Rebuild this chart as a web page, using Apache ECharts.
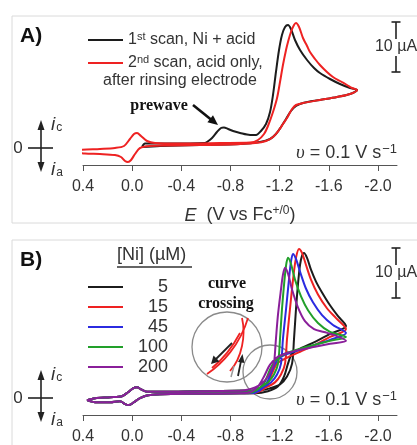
<!DOCTYPE html>
<html>
<head>
<meta charset="utf-8">
<script src="https://cdn.jsdelivr.net/npm/echarts@6/dist/echarts.min.js"></script>
<style>
    html, body { margin: 0; padding: 0; background: #fff; }
    #chart { width: 417px; height: 445px; }
</style>
</head>
<body>
<div id="chart"></div>
<script>
// potential ticks (V vs Fc+/0), same for both panels
const eTicks = [0.4, 0.0, -0.4, -0.8, -1.2, -1.6, -2.0];

// panel A: [E (V), i (uA)], cathodic current up
const scan1 = [
    [-0.080, 0.2], [-0.105, 0.9], [-0.308, 0.9], [-0.593, 1.0], [-0.609, 1.2], [-0.650, 2.0],
    [-0.690, 3.2], [-0.723, 4.0], [-0.747, 4.1], [-0.780, 3.8], [-0.821, 3.4], [-0.878, 3.0],
    [-0.959, 2.6], [-1.008, 2.6], [-1.048, 3.4], [-1.089, 4.8], [-1.122, 7.2], [-1.146, 10.6],
    [-1.170, 15.2], [-1.195, 19.6], [-1.219, 22.6], [-1.244, 24.2], [-1.268, 24.6], [-1.292, 23.8],
    [-1.325, 21.6], [-1.366, 19.6], [-1.423, 17.6], [-1.480, 16.0], [-1.528, 15.0], [-1.610, 13.8],
    [-1.691, 12.8], [-1.773, 12.0], [-1.830, 11.6],
    [-1.773, 10.8], [-1.667, 10.2], [-1.528, 9.6], [-1.390, 9.0], [-1.333, 8.4], [-1.292, 7.4],
    [-1.252, 5.8], [-1.211, 4.2], [-1.170, 2.8], [-1.122, 1.8], [-1.040, 1.2], [-0.878, 0.8],
    [-0.552, 0.6], [-0.227, 0.4], [-0.080, 0.2]
];
const scan2 = [
    [0.481, -0.8], [0.424, -0.4], [0.262, -0.2], [0.140, 0.0], [0.066, 0.4], [0.018, 1.8],
    [-0.015, 2.8], [-0.040, 3.0], [-0.072, 2.4], [-0.121, 1.4], [-0.186, 1.0], [-0.389, 0.9],
    [-0.715, 1.0], [-0.959, 1.1], [-1.024, 1.6], [-1.073, 2.8], [-1.105, 4.4], [-1.146, 7.2],
    [-1.179, 10.0], [-1.203, 13.2], [-1.227, 16.6], [-1.252, 19.6], [-1.268, 21.2], [-1.292, 23.2],
    [-1.317, 24.6], [-1.333, 25.0], [-1.358, 24.2], [-1.390, 22.0], [-1.423, 20.4], [-1.447, 19.2],
    [-1.488, 17.8], [-1.528, 16.6], [-1.585, 15.2], [-1.634, 14.2], [-1.691, 13.4], [-1.748, 12.6],
    [-1.789, 12.0], [-1.830, 11.6],
    [-1.773, 10.8], [-1.667, 10.2], [-1.528, 9.6], [-1.390, 9.0], [-1.333, 8.6], [-1.301, 7.8],
    [-1.260, 6.0], [-1.227, 4.8], [-1.195, 3.6], [-1.146, 2.2], [-1.089, 1.4], [-1.000, 1.0],
    [-0.796, 0.7], [-0.552, 0.6], [-0.308, 0.5], [-0.145, 0.4], [-0.064, 0.0], [-0.023, -1.2],
    [0.009, -2.4], [0.034, -2.8], [0.058, -2.6], [0.091, -1.8], [0.140, -1.4], [0.262, -1.2],
    [0.384, -1.1], [0.481, -0.8]
];

// panel B: [Ni] series, shared Fc part + catalytic wave
const niConc = ['5', '15', '45', '100', '200'];
const fcForward = [
    [0.367, -0.8], [0.302, -0.4], [0.180, -0.2], [0.083, 0.0], [0.034, 0.8], [-0.007, 1.6],
    [-0.040, 1.8], [-0.072, 1.4], [-0.121, 0.9], [-0.227, 0.9], [-0.552, 1.0], [-0.878, 1.1]
];
const fcReturn = [
    [-0.878, 0.6], [-0.552, 0.5], [-0.227, 0.4], [-0.129, 0.2], [-0.064, -0.4], [-0.015, -1.2],
    [0.026, -1.8], [0.058, -1.6], [0.099, -1.0], [0.180, -1.2], [0.302, -1.2], [0.367, -0.8]
];
const wave5 = [
    [-1.024, 1.1], [-1.122, 1.6], [-1.203, 2.4], [-1.260, 4.0], [-1.301, 6.6], [-1.317, 11.6],
    [-1.333, 17.6], [-1.349, 22.6], [-1.366, 26.6], [-1.382, 28.4], [-1.398, 29.0], [-1.423, 28.0],
    [-1.455, 25.6], [-1.496, 23.2], [-1.545, 21.0], [-1.610, 18.4], [-1.675, 16.2], [-1.740, 14.2],
    [-1.610, 12.6], [-1.488, 11.0], [-1.366, 9.6], [-1.301, 8.6], [-1.268, 6.6], [-1.236, 4.0],
    [-1.187, 2.0], [-1.105, 1.0], [-1.000, 0.6]
];
const wave15 = [
    [-1.000, 1.1], [-1.089, 1.8], [-1.162, 2.8], [-1.211, 4.4], [-1.244, 6.6], [-1.260, 11.6],
    [-1.284, 17.6], [-1.309, 23.6], [-1.333, 28.0], [-1.358, 29.8], [-1.382, 29.0], [-1.414, 26.6],
    [-1.455, 23.6], [-1.512, 20.6], [-1.585, 17.8], [-1.659, 15.8], [-1.740, 13.6],
    [-1.610, 12.0], [-1.488, 10.4], [-1.366, 9.0], [-1.244, 7.6], [-1.179, 6.6], [-1.138, 4.6],
    [-1.105, 2.6], [-1.056, 1.2], [-0.959, 0.6]
];
const wave45 = [
    [-0.975, 1.1], [-1.065, 1.8], [-1.130, 2.8], [-1.179, 4.4], [-1.211, 6.6], [-1.227, 11.6],
    [-1.252, 17.6], [-1.276, 23.6], [-1.292, 27.2], [-1.309, 28.8], [-1.333, 27.8], [-1.366, 25.2],
    [-1.414, 21.8], [-1.471, 19.0], [-1.545, 16.4], [-1.634, 14.4], [-1.740, 12.8],
    [-1.610, 11.4], [-1.488, 10.4], [-1.366, 9.4], [-1.244, 8.4], [-1.179, 7.2], [-1.138, 5.2],
    [-1.097, 2.8], [-1.040, 1.2], [-0.959, 0.6]
];
const wave100 = [
    [-0.959, 1.1], [-1.040, 1.8], [-1.105, 2.8], [-1.154, 4.4], [-1.187, 6.6], [-1.203, 11.6],
    [-1.219, 17.6], [-1.236, 22.6], [-1.252, 26.4], [-1.268, 28.0], [-1.292, 26.8], [-1.325, 23.6],
    [-1.374, 20.2], [-1.431, 17.4], [-1.512, 14.8], [-1.610, 13.0], [-1.740, 12.0],
    [-1.610, 11.2], [-1.488, 10.4], [-1.366, 9.6], [-1.244, 8.6], [-1.170, 7.4], [-1.122, 5.4],
    [-1.081, 3.0], [-1.024, 1.4], [-0.943, 0.6]
];
const wave200 = [
    [-0.918, 1.2], [-1.000, 1.8], [-1.056, 2.6], [-1.105, 4.0], [-1.138, 5.6], [-1.154, 6.6],
    [-1.170, 11.6], [-1.187, 16.6], [-1.211, 21.6], [-1.227, 24.6], [-1.244, 26.0], [-1.268, 24.8],
    [-1.301, 21.6], [-1.349, 18.0], [-1.406, 15.2], [-1.480, 13.6], [-1.561, 13.0], [-1.642, 12.4],
    [-1.740, 11.2],
    [-1.610, 10.6], [-1.488, 10.0], [-1.366, 9.4], [-1.268, 8.8], [-1.187, 8.0], [-1.122, 6.4],
    [-1.073, 4.0], [-1.024, 2.0], [-0.959, 0.8]
];
const waves = [wave5, wave15, wave45, wave100, wave200];

const niColors = ['#1c1c1c', '#ee2222', '#2b2be0', '#22a02a', '#8a1f9a'];
const sans = '"Liberation Sans", Arial, sans-serif';
const serif = '"Liberation Serif", "Times New Roman", serif';

let myChart = echarts.init(document.getElementById('chart'));

function xAxisFor(gridIndex) {
    return {
        gridIndex: gridIndex,
        type: 'value',
        min: -2.155,
        max: 0.4,
        inverse: true,
        axisLine: {onZero: false, lineStyle: {color: '#555', width: 1}},
        axisTick: {customValues: eTicks, length: 6, lineStyle: {color: '#555'}},
        axisLabel: {
            customValues: eTicks, margin: 14, fontSize: 16, color: '#333', fontFamily: sans,
            formatter: v => v.toFixed(1)
        },
        splitLine: {show: false}
    };
}

// 0 label with i_c / i_a double arrow
function currentCross(y0) {
    let c = '#222';
    return [
        {type: 'text', x: 18, y: y0, style: {text: '0', font: '17px ' + sans, fill: '#333', align: 'center', verticalAlign: 'middle'}},
        {type: 'line', shape: {x1: 28, y1: y0, x2: 53, y2: y0}, style: {stroke: c, lineWidth: 1.6}},
        {type: 'line', shape: {x1: 41, y1: y0 - 20, x2: 41, y2: y0 + 16}, style: {stroke: c, lineWidth: 1.6}},
        {type: 'polygon', shape: {points: [[41, y0 - 28], [37.5, y0 - 18], [44.5, y0 - 18]]}, style: {fill: c}},
        {type: 'polygon', shape: {points: [[41, y0 + 24], [37.5, y0 + 14], [44.5, y0 + 14]]}, style: {fill: c}},
        {type: 'text', x: 51, y: y0 - 23, style: {
            text: '{i|i}{s|c}', verticalAlign: 'middle', fill: '#333',
            rich: {i: {font: 'italic 19px ' + sans}, s: {font: '12px ' + sans, padding: [6, 0, 0, 1]}}
        }},
        {type: 'text', x: 51, y: y0 + 22, style: {
            text: '{i|i}{s|a}', verticalAlign: 'middle', fill: '#333',
            rich: {i: {font: 'italic 19px ' + sans}, s: {font: '12px ' + sans, padding: [6, 0, 0, 1]}}
        }}
    ];
}

// 10 uA scale bar
function scaleBar(yTop) {
    let c = '#222';
    return [
        {type: 'line', shape: {x1: 391.5, y1: yTop, x2: 400.5, y2: yTop}, style: {stroke: c, lineWidth: 1.6}},
        {type: 'line', shape: {x1: 396, y1: yTop, x2: 396, y2: yTop + 17}, style: {stroke: c, lineWidth: 1.6}},
        {type: 'text', x: 396, y: yTop + 25, style: {text: '10 µA', font: '16px ' + sans, fill: '#333', align: 'center', verticalAlign: 'middle'}},
        {type: 'line', shape: {x1: 396, y1: yTop + 34, x2: 396, y2: yTop + 50}, style: {stroke: c, lineWidth: 1.6}},
        {type: 'line', shape: {x1: 391.5, y1: yTop + 50, x2: 400.5, y2: yTop + 50}, style: {stroke: c, lineWidth: 1.6}}
    ];
}

function scanRate(y) {
    return {type: 'text', x: 397, y: y, style: {
        text: '{v|υ}{t| = 0.1 V s}{s|−1}', align: 'right', verticalAlign: 'middle', fill: '#333',
        rich: {v: {font: 'italic 19px ' + serif}, t: {font: '18px ' + sans}, s: {font: '13px ' + sans, padding: [0, 0, 8, 1]}}
    }};
}

let graphics = [
    {type: 'rect', z: -1, shape: {x: 12, y: 16, width: 420, height: 207}, style: {fill: 'none', stroke: '#dadada', lineWidth: 1}},
    {type: 'rect', z: -1, shape: {x: 12, y: 240, width: 420, height: 230}, style: {fill: 'none', stroke: '#dadada', lineWidth: 1}},
    {type: 'text', x: 20, y: 36, style: {text: 'A)', font: 'bold 21px ' + sans, fill: '#111', verticalAlign: 'middle'}},
    {type: 'text', x: 20, y: 260, style: {text: 'B)', font: 'bold 21px ' + sans, fill: '#111', verticalAlign: 'middle'}},
    {type: 'text', x: 103, y: 81, style: {text: 'after rinsing electrode', font: '16px ' + sans, fill: '#333', verticalAlign: 'middle'}},
    // prewave annotation
    {type: 'text', x: 159, y: 106, style: {text: 'prewave', font: 'bold 16px ' + serif, fill: '#111', align: 'center', verticalAlign: 'middle'}},
    {type: 'line', shape: {x1: 193, y1: 105, x2: 211, y2: 119.5}, style: {stroke: '#111', lineWidth: 2.6}},
    {type: 'polygon', shape: {points: [[218, 125], [207.4, 122.3], [213, 115.3]]}, style: {fill: '#111'}},
    // legend title of B
    {type: 'text', x: 117, y: 255, style: {text: '[Ni] (µM)', font: '18px ' + sans, fill: '#333', verticalAlign: 'middle'}},
    {type: 'line', shape: {x1: 117, y1: 267, x2: 192, y2: 267}, style: {stroke: '#333', lineWidth: 1.6}},
    // curve crossing callout
    {type: 'text', x: 227, y: 284, style: {text: 'curve', font: 'bold 16px ' + serif, fill: '#111', align: 'center', verticalAlign: 'middle'}},
    {type: 'text', x: 226, y: 304, style: {text: 'crossing', font: 'bold 16px ' + serif, fill: '#111', align: 'center', verticalAlign: 'middle'}},
    {type: 'circle', shape: {cx: 227, cy: 347, r: 35}, style: {fill: 'none', stroke: '#8a8a8a', lineWidth: 1.3}},
    {type: 'circle', shape: {cx: 270, cy: 372, r: 27}, style: {fill: 'none', stroke: '#8a8a8a', lineWidth: 1.3}},
    {type: 'bezierCurve', shape: {x1: 248, y1: 318, x2: 207, y2: 374, cpx1: 240, cpy1: 345, cpx2: 222, cpy2: 364}, style: {fill: 'none', stroke: '#ee2222', lineWidth: 1.8}},
    {type: 'bezierCurve', shape: {x1: 242, y1: 318, x2: 230, y2: 371, cpx1: 246, cpy1: 335, cpx2: 242, cpy2: 358}, style: {fill: 'none', stroke: '#ee2222', lineWidth: 1.8}},
    {type: 'bezierCurve', shape: {x1: 240, y1: 333, x2: 212, y2: 368, cpx1: 232, cpy1: 348, cpx2: 222, cpy2: 360}, style: {fill: 'none', stroke: '#ee2222', lineWidth: 1.8}},
    {type: 'line', shape: {x1: 232, y1: 343, x2: 216, y2: 359}, style: {stroke: '#222', lineWidth: 1.8}},
    {type: 'polygon', shape: {points: [[211, 364], [213.5, 355.5], [219.5, 361.5]]}, style: {fill: '#222'}},
    {type: 'line', shape: {x1: 238, y1: 376, x2: 241, y2: 361}, style: {stroke: '#222', lineWidth: 1.8}},
    {type: 'polygon', shape: {points: [[242.5, 354], [238, 362], [244.5, 363]]}, style: {fill: '#222'}},
    {type: 'line', shape: {x1: 231, y1: 377, x2: 234, y2: 366}, style: {stroke: '#999', lineWidth: 1.5}},
    scanRate(153),
    scanRate(400)
].concat(currentCross(148), currentCross(398), scaleBar(22), scaleBar(248));

let series = [
    {name: '1st scan', type: 'line', xAxisIndex: 0, yAxisIndex: 0, data: scan1, color: '#1c1c1c'},
    {name: '2nd scan', type: 'line', xAxisIndex: 0, yAxisIndex: 0, data: scan2, color: '#ee2222'}
];
niConc.forEach((c, i) => {
    series.push({
        name: c, type: 'line', xAxisIndex: 1, yAxisIndex: 1, color: niColors[i],
        data: fcForward.concat(waves[i], fcReturn)
    });
});
series.forEach(s => {
    s.symbol = 'none';
    s.smooth = 0.3;
    s.clip = false;
    s.lineStyle = {width: 2};
});

let option = {
    animation: false,
    backgroundColor: '#fff',
    grid: [
        {left: 83, right: 20, top: 18, height: 147},
        {left: 83, right: 20, top: 245, height: 172}
    ],
    xAxis: [
        Object.assign(xAxisFor(0), {
            name: '{e|E}{t|  (V vs Fc}{s|+/0}{t|)}',
            nameLocation: 'middle',
            nameGap: 40,
            nameTextStyle: {
                color: '#333',
                rich: {
                    e: {fontSize: 18, fontStyle: 'italic', fontFamily: sans, color: '#333'},
                    t: {fontSize: 18, fontFamily: sans, color: '#333'},
                    s: {fontSize: 12, fontFamily: sans, color: '#333', padding: [0, 0, 9, 0]}
                }
            }
        }),
        xAxisFor(1)
    ],
    yAxis: [
        {gridIndex: 0, type: 'value', min: -3.4, max: 26, show: false},
        {gridIndex: 1, type: 'value', min: -3.8, max: 30.6, show: false}
    ],
    legend: [
        {
            data: ['1st scan', '2nd scan'],
            orient: 'vertical', left: 83, top: 26,
            icon: 'rect', itemWidth: 35, itemHeight: 2, itemGap: 5,
            selectedMode: false,
            textStyle: {
                color: '#333', fontSize: 16, fontFamily: sans, lineHeight: 18,
                rich: {
                    a: {fontSize: 16, fontFamily: sans, color: '#333'},
                    s: {fontSize: 11, fontFamily: sans, color: '#333', padding: [0, 0, 7, 0]}
                }
            },
            formatter: function (name) {
                if (name === '1st scan') {
                    return '{a|1}{s|st}{a| scan, Ni + acid}';
                }
                return '{a|2}{s|nd}{a| scan, acid only,}';
            }
        },
        {
            data: niConc,
            orient: 'vertical', left: 83, top: 272,
            icon: 'rect', itemWidth: 35, itemHeight: 2, itemGap: 0,
            selectedMode: false,
            textStyle: {
                color: '#333', fontSize: 18, fontFamily: sans, lineHeight: 20,
                rich: {n: {width: 40, align: 'right', fontSize: 18, fontFamily: sans, color: '#333'}}
            },
            formatter: name => '{n|' + name + '}'
        }
    ],
    graphic: graphics,
    series: series
};
if (option && typeof option === "object") {
    myChart.setOption(option, true);
}
</script>
</body>
</html>
